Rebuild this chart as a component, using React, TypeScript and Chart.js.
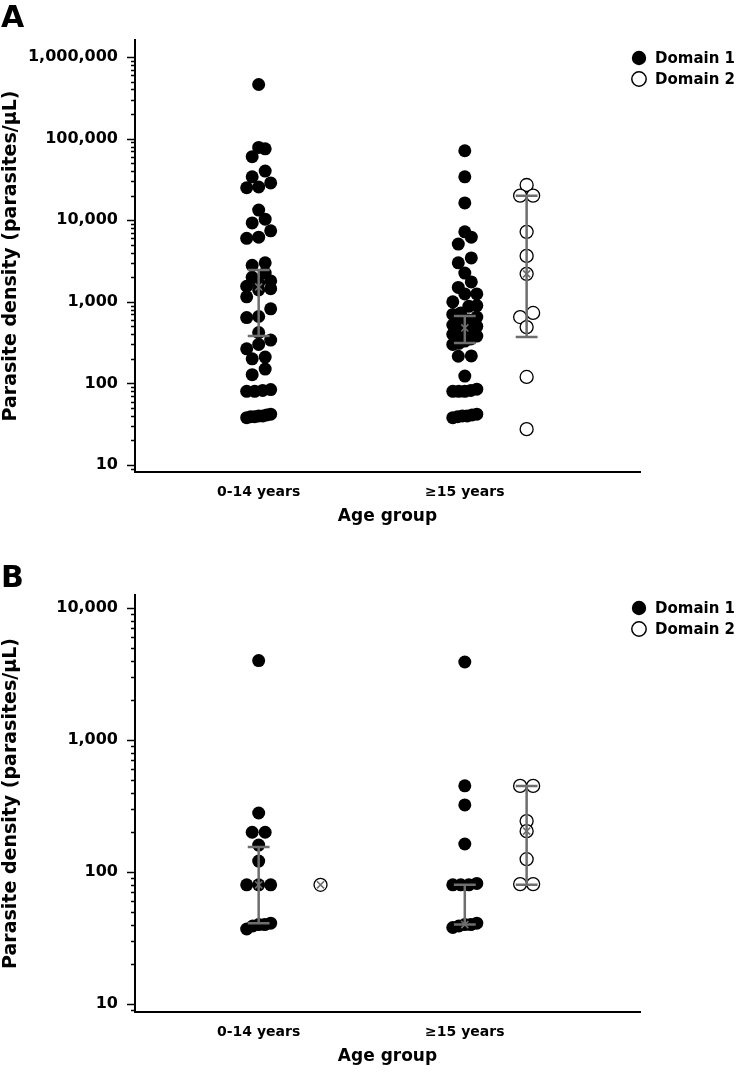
import React, { useEffect, useRef } from "react";
import { Chart, registerables } from "chart.js";

Chart.register(...registerables);

const FONT = "'DejaVu Sans', sans-serif";
const GREY = "#6e6e6e";

const categories = ["0-14 years", "≥15 years"];
const categoryPositions = [0, 1];
const domain2Shift = 0.3;
const legendLabels = ["Domain 1", "Domain 2"];
const yAxisTitle = "Parasite density (parasites/µL)";
const xAxisTitle = "Age group";

// ---------- Panel A ----------
const aChildDomain1 = [
  460000, 78000, 75000, 60000, 40000, 34000, 28600, 25500, 25000, 13300, 10300,
  9250, 7400, 6200, 6000, 3000, 2800, 2250, 2000, 1800, 1700, 1550, 1450, 1400,
  1150, 820, 660, 640, 420, 340, 300, 265, 210, 200, 150, 128, 84, 82, 80, 80,
  42, 41, 40, 40, 39, 39, 38,
];
const aAdultDomain1 = [
  71000, 34000, 16300, 7200, 6200, 5100, 3450, 3000, 2250, 1750, 1500, 1250,
  1250, 1000, 900, 880, 730, 700, 650, 600, 560, 520, 500, 480, 460, 440, 420,
  400, 380, 350, 330, 310, 300, 217, 215, 123, 85, 82, 80, 80, 80, 42, 41, 40,
  40, 39, 38,
];
const aAdultDomain2 = [27000, 20000, 20000, 7200, 3650, 2200, 730, 650, 490, 120, 27.5];
// [q1, median, q3]
const aChildDomain1Stats = [380, 1520, 2450];
const aAdultDomain1Stats = [313, 478, 670];
const aAdultDomain2Stats = [370, 2200, 20000];
const aMajorTicks = [10, 100, 1000, 10000, 100000, 1000000];

// ---------- Panel B ----------
const bChildDomain1 = [4000, 280, 200, 200, 160, 121, 80, 80, 80, 41, 40, 40, 39, 37];
const bChildDomain2 = [80];
const bAdultDomain1 = [3900, 450, 322, 163, 82, 80, 80, 80, 41, 40, 40, 39, 38];
const bAdultDomain2 = [449, 449, 243, 204, 125, 81, 81];
const bChildDomain1Stats = [41, 80, 155];
const bChildDomain2Stats = [80, 80, 80];
const bAdultDomain1Stats = [40, 40, 80];
const bAdultDomain2Stats = [80, 204, 449];
const bMajorTicks = [10, 100, 1000, 10000];

type Group = { pos: number; values: number[]; stats: number[]; open: boolean };
type PanelProps = {
  letter: string;
  letterTop: number;
  groups: Group[];
  yMin: number;
  yMax: number;
  majorTicks: number[];
  padTop: number;
  xHeight: number;
  legendY: number;
};

function swarmOffsets(values: number[], toPx: (v: number) => number) {
  const rowH = 9, sep = 13, maxHalf = 12;
  const items = values.map((v, i) => ({ i, v, py: toPx(v) })).sort((a, b) => b.py - a.py);
  const out: number[] = new Array(values.length).fill(0);
  let row: { i: number; v: number; py: number }[] = [];
  const flush = () => {
    const n = row.length;
    if (!n) return;
    const sp = n > 1 ? Math.min(sep, (2 * maxHalf) / (n - 1)) : 0;
    row.sort((a, b) => a.v - b.v).forEach((it, k) => {
      out[it.i] = (k - (n - 1) / 2) * sp;
    });
    row = [];
  };
  items.forEach((it) => {
    if (row.length && Math.abs(it.py - row[0].py) > rowH) flush();
    row.push(it);
  });
  flush();
  return out;
}

function Panel(p: PanelProps) {
  const ref = useRef<HTMLCanvasElement>(null);
  useEffect(() => {
    const canvas = ref.current!;
    const capHalf = 0.053;
    const allTicks: number[] = [];
    for (let d = Math.floor(Math.log10(p.yMin)); d <= Math.ceil(Math.log10(p.yMax)); d++) {
      for (let m = 1; m <= 9; m++) {
        const v = m * Math.pow(10, d);
        if (v >= p.yMin && v <= p.yMax) allTicks.push(v);
      }
    }
    const pointSets: any[] = p.groups.map((g) => ({
      type: "scatter",
      data: g.values.map((v) => ({ x: g.pos, y: v })),
      pointRadius: 6.5,
      pointHoverRadius: 6.5,
      pointBackgroundColor: g.open ? "#ffffff" : "#000000",
      pointBorderColor: "#000000",
      pointBorderWidth: g.open ? 1.3 : 0,
      order: 3,
    }));
    const barData: any[] = [];
    const medData: any[] = [];
    p.groups.forEach((g) => {
      if (g.stats.length < 3) return;
      const [q1, med, q3] = g.stats;
      medData.push({ x: g.pos, y: med });
      if (q1 === q3) return;
      barData.push(
        { x: g.pos, y: q1 }, { x: g.pos, y: q3 }, { x: g.pos, y: null },
        { x: g.pos - capHalf, y: q1 }, { x: g.pos + capHalf, y: q1 }, { x: g.pos, y: null },
        { x: g.pos - capHalf, y: q3 }, { x: g.pos + capHalf, y: q3 }, { x: g.pos, y: null }
      );
    });
    const datasets: any[] = [
      ...pointSets,
      {
        type: "scatter",
        data: barData,
        showLine: true,
        spanGaps: false,
        borderColor: GREY,
        borderWidth: 2.5,
        pointRadius: 0,
        tension: 0,
        order: 1,
      },
      {
        type: "scatter",
        data: medData,
        pointStyle: "crossRot",
        pointRadius: 5,
        pointBorderColor: GREY,
        pointBorderWidth: 1.6,
        order: 0,
      },
    ];

    const decor = {
      id: "decor",
      afterDraw(chart: any) {
        const ctx = chart.ctx;
        const ys = chart.scales.y;
        const left = chart.chartArea.left;
        ctx.save();
        ctx.strokeStyle = "#000";
        ctx.lineWidth = 1.5;
        ys.ticks.forEach((t: any) => {
          const py = Math.round(ys.getPixelForValue(t.value)) + 0.5;
          const len = p.majorTicks.includes(t.value) ? 8 : 4;
          ctx.beginPath();
          ctx.moveTo(left - len, py);
          ctx.lineTo(left, py);
          ctx.stroke();
        });
        legendLabels.forEach((lab, i) => {
          const cy = p.legendY + i * 21;
          ctx.beginPath();
          ctx.arc(639, cy, 7.2, 0, Math.PI * 2);
          if (i === 0) {
            ctx.fillStyle = "#000";
            ctx.fill();
          } else {
            ctx.fillStyle = "#fff";
            ctx.fill();
            ctx.lineWidth = 1.5;
            ctx.stroke();
          }
          ctx.fillStyle = "#000";
          ctx.font = `bold 15px ${FONT}`;
          ctx.textBaseline = "middle";
          ctx.textAlign = "left";
          ctx.fillText(lab, 655, cy + 1);
        });
        ctx.font = `bold 30px ${FONT}`;
        ctx.textBaseline = "top";
        ctx.fillText(p.letter, 1, p.letterTop);
        ctx.restore();
      },
    };

    const chart = new Chart(canvas, {
      type: "scatter",
      data: { datasets },
      plugins: [decor],
      options: {
        responsive: false,
        animation: false,
        devicePixelRatio: 1,
        events: [],
        layout: { padding: { top: p.padTop, right: 96, left: 0, bottom: 0 } },
        plugins: { legend: { display: false }, tooltip: { enabled: false } },
        scales: {
          x: {
            type: "linear",
            min: -0.6,
            max: 1.85,
            grid: { display: false, drawTicks: false },
            border: { display: true, color: "#000", width: 2 },
            afterBuildTicks: (s: any) => {
              s.ticks = categoryPositions.map((v) => ({ value: v }));
            },
            afterFit: (s: any) => {
              s.height = p.xHeight;
            },
            ticks: {
              autoSkip: false,
              maxRotation: 0,
              padding: 12,
              color: "#000",
              font: { family: FONT, size: 14, weight: "bold" },
              callback: (v: any) => {
                const idx = categoryPositions.indexOf(Number(v));
                return idx >= 0 ? categories[idx] : "";
              },
            },
            title: {
              display: true,
              text: xAxisTitle,
              color: "#000",
              font: { family: FONT, size: 17, weight: "bold" },
              padding: { top: 0, bottom: p.xHeight - 45 - 10.2 },
            },
          },
          y: {
            type: "logarithmic",
            min: p.yMin,
            max: p.yMax,
            grid: { display: false, drawTicks: false },
            border: { display: true, color: "#000", width: 2 },
            afterBuildTicks: (s: any) => {
              s.ticks = allTicks.map((v) => ({ value: v }));
            },
            afterFit: (s: any) => {
              s.width = 135;
            },
            ticks: {
              autoSkip: false,
              padding: 17,
              color: "#000",
              font: { family: FONT, size: 16, weight: "bold" },
              callback: (v: any) =>
                p.majorTicks.includes(Number(v)) ? Number(v).toLocaleString("en-US") : "",
            },
            title: {
              display: true,
              text: yAxisTitle,
              color: "#000",
              font: { family: FONT, size: 19, weight: "bold" },
              padding: { top: 0, bottom: 0 },
            },
          },
        },
      } as any,
    });

    const ys: any = chart.scales.y;
    const xs: any = chart.scales.x;
    const pxPerUnit = xs.getPixelForValue(1) - xs.getPixelForValue(0);
    p.groups.forEach((g, k) => {
      const offs = swarmOffsets(g.values, (v) => ys.getPixelForValue(v));
      (chart.data.datasets[k] as any).data = g.values.map((v, i) => ({
        x: g.pos + offs[i] / pxPerUnit,
        y: v,
      }));
    });
    chart.update("none");

    return () => chart.destroy();
  }, []);
  return <canvas ref={ref} width={736} height={536} style={{ display: "block" }} />;
}

export default function App() {
  useEffect(() => {
    document.body.style.margin = "0";
  }, []);
  const groupsA: Group[] = [
    { pos: categoryPositions[0], values: aChildDomain1, stats: aChildDomain1Stats, open: false },
    { pos: categoryPositions[1], values: aAdultDomain1, stats: aAdultDomain1Stats, open: false },
    { pos: categoryPositions[1] + domain2Shift, values: aAdultDomain2, stats: aAdultDomain2Stats, open: true },
  ];
  const groupsB: Group[] = [
    { pos: categoryPositions[0], values: bChildDomain1, stats: bChildDomain1Stats, open: false },
    { pos: categoryPositions[0] + domain2Shift, values: bChildDomain2, stats: bChildDomain2Stats, open: true },
    { pos: categoryPositions[1], values: bAdultDomain1, stats: bAdultDomain1Stats, open: false },
    { pos: categoryPositions[1] + domain2Shift, values: bAdultDomain2, stats: bAdultDomain2Stats, open: true },
  ];
  return (
    <div style={{ width: 736, background: "#fff" }}>
      <Panel letter="A" letterTop={4} groups={groupsA} yMin={8.21} yMax={1615000} majorTicks={aMajorTicks} padTop={40} xHeight={64} legendY={58} />
      <Panel letter="B" letterTop={28} groups={groupsB} yMin={8.7} yMax={12545} majorTicks={bMajorTicks} padTop={59} xHeight={60} legendY={72} />
    </div>
  );
}
